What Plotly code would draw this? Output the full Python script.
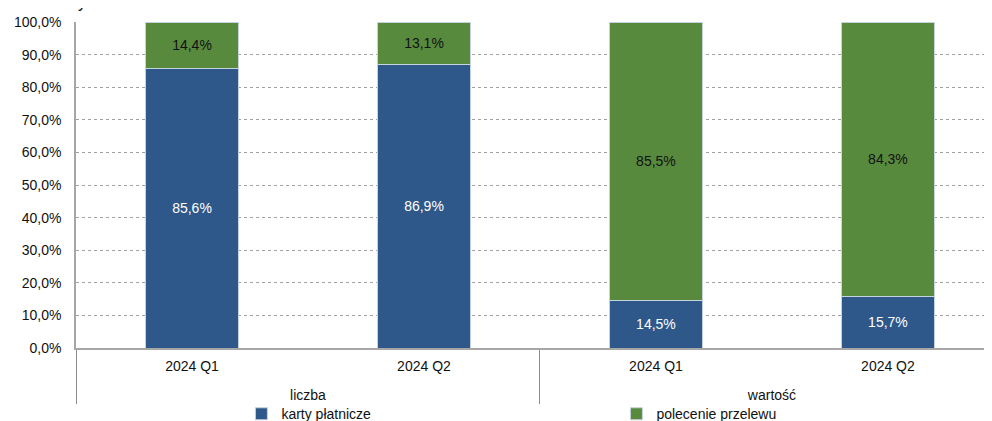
import plotly.graph_objects as go

# ── Data ─────────────────────────────────────────────────────────────────────
groups   = ["liczba", "liczba", "wartość", "wartość"]
quarters = ["2024 Q1", "2024 Q2", "2024 Q1", "2024 Q2"]

karty    = [85.6, 86.9, 14.5, 15.7]   # karty płatnicze
przelew  = [14.4, 13.1, 85.5, 84.3]   # polecenie przelewu

BLUE  = "#2E5889"
GREEN = "#588A3E"
FONT  = "Liberation Sans, Arial, sans-serif"

# a tiny blank second line under each quarter label pushes the group labels lower
quarter_labels = [q + "<br><span style='font-size:2px'>\u00a0</span>" for q in quarters]
x_cats = [groups, quarter_labels]

fig = go.Figure()

fig.add_trace(go.Bar(
    x=x_cats, y=karty,
    name="karty płatnicze",
    marker=dict(color=BLUE, line=dict(color="#C9D3DE", width=1)),
    texttemplate="%{y:.1f}%",
    textposition="inside", insidetextanchor="middle",
    textfont=dict(color="white", size=14, family=FONT),
))
fig.add_trace(go.Bar(
    x=x_cats, y=przelew,
    name="polecenie przelewu",
    marker=dict(color=GREEN, line=dict(color="#C9D3DE", width=1)),
    texttemplate="%{y:.1f}%",
    textposition="inside", insidetextanchor="middle",
    textfont=dict(color="#111111", size=14, family=FONT),
))

fig.update_layout(
    barmode="stack",
    bargap=0.6,
    width=992, height=421,
    margin=dict(l=68, r=0, t=14, b=81, autoexpand=False),
    paper_bgcolor="white",
    plot_bgcolor="white",
    separators=", ",
    font=dict(family=FONT, size=14, color="#111111"),
    legend=dict(
        orientation="h",
        traceorder="normal",
        x=0.179, xanchor="left",
        y=-0.203, yanchor="middle",
        entrywidth=330, entrywidthmode="pixels",
        itemwidth=30,
        font=dict(size=14, family=FONT),
        bgcolor="rgba(0,0,0,0)",
    ),
    # remnant of a clipped heading above the chart
    annotations=[dict(
        text="y", xref="paper", yref="paper",
        x=0.0, y=1.0, xanchor="left", yanchor="bottom",
        yshift=9, showarrow=False,
        font=dict(size=16, family=FONT, color="#111111"),
    )],
)

fig.update_yaxes(
    range=[0, 100],
    dtick=10,
    tickformat=".1f", ticksuffix="%",
    showgrid=True, gridcolor="#A0A0A0", gridwidth=1, griddash="dot",
    zeroline=False,
    showline=True, linecolor="#A6A6A6", linewidth=1.5,
    ticks="", ticklabelstandoff=10,
    tickfont=dict(size=14, family=FONT),
)
fig.update_xaxes(
    range=[-0.5, 3.483],
    showline=True, linecolor="#A6A6A6", linewidth=2,
    showdividers=True, dividercolor="#8C8C8C", dividerwidth=1,
    ticks="", tickson="boundaries", ticklabelstandoff=4,
    tickfont=dict(size=14, family=FONT),
)

fig.write_html("out.html")
